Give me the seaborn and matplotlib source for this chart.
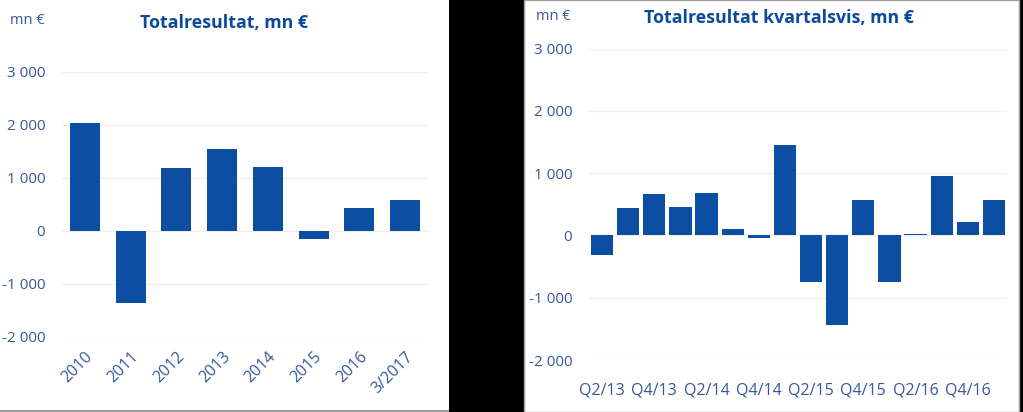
import matplotlib
matplotlib.use("Agg")
import matplotlib.pyplot as plt
import seaborn as sns
import pandas as pd
from matplotlib.patches import Rectangle
from matplotlib.ticker import FuncFormatter

# ---- data ----
years = ["2010", "2011", "2012", "2013", "2014", "2015", "2016", "3/2017"]
annual_values = [2040, -1370, 1190, 1540, 1210, -160, 440, 580]

quarters = ["Q2/13", "Q3/13", "Q4/13", "Q1/14", "Q2/14", "Q3/14", "Q4/14", "Q1/15",
            "Q2/15", "Q3/15", "Q4/15", "Q1/16", "Q2/16", "Q3/16", "Q4/16", "Q1/17"]
quarter_values = [-320, 440, 670, 450, 690, 100, -40, 1450,
                  -750, -1440, 570, -750, 20, 960, 210, 570]
quarter_tick_labels = ["Q2/13", "Q4/13", "Q2/14", "Q4/14", "Q2/15", "Q4/15", "Q2/16", "Q4/16"]

yticks = [-2000, -1000, 0, 1000, 2000, 3000]

left_title = "Totalresultat, mn €"
right_title = "Totalresultat kvartalsvis, mn €"
unit_label = "mn €"

BAR = "#0B4EA2"
TITLE_C = "#0B4A9B"
TICK_C = "#36589A"
GRID_C = "#EFEFEF"

sns.set_theme(style="white")
plt.rcParams["font.family"] = ["Open Sans", "DejaVu Sans"]

W, H = 1023, 412
fig = plt.figure(figsize=(W / 100, H / 100), dpi=100, facecolor="black")

# white panels (behind the axes)
fig.patches.append(Rectangle((0, 2 / H), 449 / W, 1 - 2 / H, transform=fig.transFigure,
                             facecolor="white", edgecolor="none", zorder=-2))
fig.patches.append(Rectangle((0, 0), 449 / W, 2 / H, transform=fig.transFigure,
                             facecolor="#9A9A9A", edgecolor="none", zorder=-2))
fig.patches.append(Rectangle((524 / W, 0), 495 / W, 1, transform=fig.transFigure,
                             facecolor="white", edgecolor="#A0A0A0", linewidth=1, zorder=-2))


def fmt(v, pos):
    v = int(round(v))
    s = f"{abs(v):,}".replace(",", " ")
    return ("-" if v < 0 else "") + s


def style_axis(ax):
    ax.set_facecolor("none")
    for s in ax.spines.values():
        s.set_visible(False)
    ax.set_ylim(-2000, 3000)
    ax.set_yticks(yticks)
    ax.yaxis.set_major_formatter(FuncFormatter(fmt))
    ax.grid(axis="y", color=GRID_C, linewidth=1)
    ax.grid(axis="x", visible=False)
    ax.set_axisbelow(True)
    ax.set_xlabel("")
    ax.set_ylabel("")
    ax.tick_params(axis="both", length=0, colors=TICK_C, labelsize=11)
    for t in ax.get_yticklabels():
        t.set_color(TICK_C)


# ---- left chart ----
axL = fig.add_axes([62 / W, 1 - 336.7 / H, 366 / W, (336.7 - 72) / H])
dfL = pd.DataFrame({"cat": years, "val": annual_values})
sns.barplot(data=dfL, x="cat", y="val", color=BAR, saturation=1, width=0.66,
            linewidth=0, ax=axL)
style_axis(axL)
axL.set_xlim(-0.5, len(years) - 0.5)
axL.tick_params(axis="y", pad=12)
axL.tick_params(axis="x", pad=9)
axL.set_xticks(range(len(years)))
axL.set_xticklabels(years, rotation=45, ha="right", rotation_mode="anchor",
                    color=TICK_C, fontsize=11.5)

fig.text(224 / W, 1 - 23 / H, left_title, ha="center", va="center",
         fontsize=12.8, fontweight="bold", color=TITLE_C)
fig.text(10 / W, 1 - 21 / H, unit_label, ha="left", va="center",
         fontsize=10.5, color=TICK_C)

# ---- right chart ----
axR = fig.add_axes([589 / W, 1 - 360 / H, 418 / W, (360 - 48.7) / H])
dfR = pd.DataFrame({"cat": quarters, "val": quarter_values})
sns.barplot(data=dfR, x="cat", y="val", color=BAR, saturation=1, width=0.85,
            linewidth=0, ax=axR)
style_axis(axR)
axR.set_xlim(-0.5, len(quarters) - 0.5)
axR.tick_params(axis="y", pad=12)
axR.tick_params(axis="x", pad=16)
tick_pos = [quarters.index(q) for q in quarter_tick_labels]
axR.set_xticks(tick_pos)
axR.set_xticklabels(quarter_tick_labels, color=TICK_C, fontsize=11.5)

fig.text(779 / W, 1 - 18 / H, right_title, ha="center", va="center",
         fontsize=12.8, fontweight="bold", color=TITLE_C)
fig.text(536 / W, 1 - 17 / H, unit_label, ha="left", va="center",
         fontsize=10.5, color=TICK_C)

fig.savefig("out.png", dpi=100, facecolor=fig.get_facecolor())
